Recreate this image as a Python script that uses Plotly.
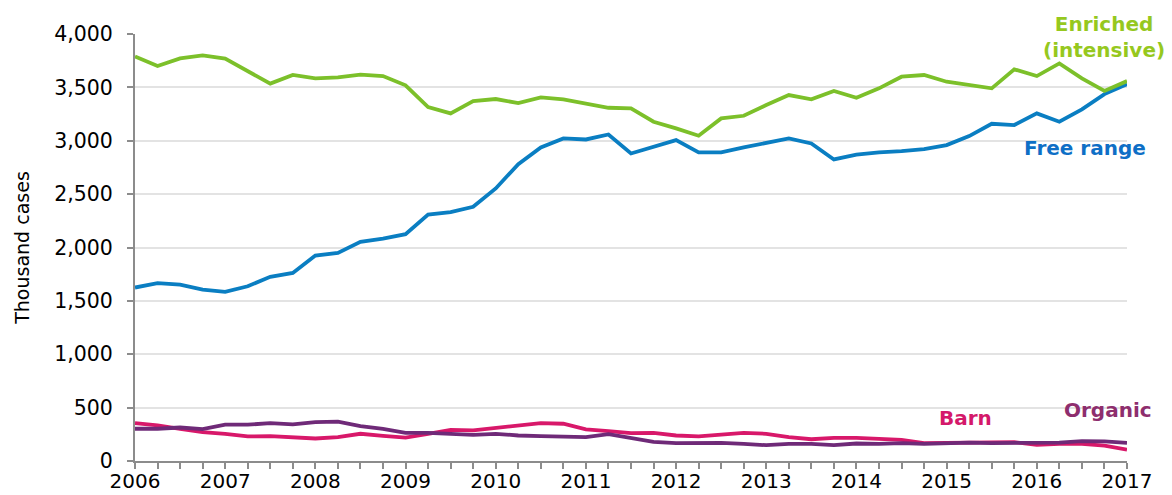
import plotly.graph_objects as go

quarters = [2006 + i * 0.25 for i in range(45)]
year_ticks = list(range(2006, 2018))

enriched = [3790, 3700, 3772, 3800, 3769, 3647, 3535, 3616, 3584, 3594, 3619, 3606,
            3519, 3316, 3256, 3372, 3391, 3353, 3406, 3387, 3350, 3309, 3303, 3178,
            3116, 3047, 3209, 3234, 3334, 3428, 3388, 3466, 3403, 3491, 3600, 3616,
            3553, 3522, 3491, 3669, 3606, 3725, 3584, 3466, 3559]
free_range = [1625, 1666, 1653, 1606, 1584, 1637, 1725, 1762, 1925, 1950, 2053, 2084,
              2125, 2309, 2331, 2381, 2553, 2781, 2937, 3022, 3012, 3059, 2881, 2944,
              3006, 2891, 2891, 2938, 2984, 3022, 2975, 2825, 2869, 2891, 2903, 2922,
              2959, 3044, 3159, 3147, 3256, 3178, 3294, 3437, 3531]
barn = [355, 333, 302, 270, 255, 230, 233, 223, 211, 223, 255, 236,
        220, 255, 292, 286, 311, 330, 355, 349, 296, 280, 262, 264,
        239, 230, 245, 264, 255, 223, 204, 217, 217, 208, 198, 167,
        170, 173, 170, 176, 151, 160, 160, 145, 107]
organic = [302, 302, 314, 299, 340, 340, 355, 343, 365, 368, 327, 302,
           264, 264, 255, 245, 255, 239, 233, 226, 223, 252, 220, 180,
           167, 167, 170, 160, 148, 160, 160, 148, 164, 160, 167, 160,
           167, 173, 167, 167, 167, 173, 186, 183, 170]

series = [
    ("Barn", barn, "#D8186A"),
    ("Organic", organic, "#6F2A78"),
    ("Free range", free_range, "#0A7EC2"),
    ("Enriched (intensive)", enriched, "#7CC02A"),
]

fig = go.Figure()
for name, vals, col in series:
    fig.add_trace(go.Scatter(x=quarters, y=vals, mode="lines", name=name,
                             line=dict(color=col, width=3.8)))

FONT = "DejaVu Sans"
lab_font = dict(family=FONT, size=20)
annots = [
    dict(x=2016.75, y=3972, text="<b>Enriched<br>(intensive)</b>", color="#96C81E"),
    dict(x=2016.53, y=2932, text="<b>Free range</b>", color="#0E6FC6"),
    dict(x=2015.21, y=403, text="<b>Barn</b>", color="#D4196A"),
    dict(x=2016.79, y=478, text="<b>Organic</b>", color="#8E2E6E"),
]
for a in annots:
    fig.add_annotation(x=a["x"], y=a["y"], text=a["text"], showarrow=False,
                       font=dict(color=a["color"], **lab_font), xref="x", yref="y",
                       align="center")

fig.update_layout(
    width=1164, height=487,
    margin=dict(l=127, r=45, t=26, b=34),
    paper_bgcolor="white", plot_bgcolor="white",
    showlegend=False,
    font=dict(family=FONT, color="black", size=20),
    xaxis=dict(range=[2006, 2017], tickvals=year_ticks, ticktext=[str(y) for y in year_ticks],
               showgrid=False, zeroline=False, showline=True, linecolor="#8C8C8C", linewidth=2,
               ticks="outside", ticklen=6, tickcolor="#8C8C8C", tickwidth=1.5,
               minor=dict(dtick=0.25, tick0=2006, ticks="outside", ticklen=6,
                          tickcolor="#8C8C8C", tickwidth=1.5, showgrid=False),
               tickfont=dict(size=20), ticklabelstandoff=-5,
               fixedrange=True, automargin=False),
    yaxis=dict(range=[0, 4000], dtick=500, tickformat=",", showgrid=True,
               gridcolor="#E3E3E3", gridwidth=1.5, zeroline=False,
               showline=True, linecolor="#8C8C8C", linewidth=2,
               ticks="outside", ticklen=6, tickcolor="#8C8C8C", tickwidth=1.5,
               tickfont=dict(size=20.5), ticklabelstandoff=10, automargin=False,
               title=dict(text="Thousand cases", font=dict(size=19), standoff=20)),
)

fig.write_html("out.html")
